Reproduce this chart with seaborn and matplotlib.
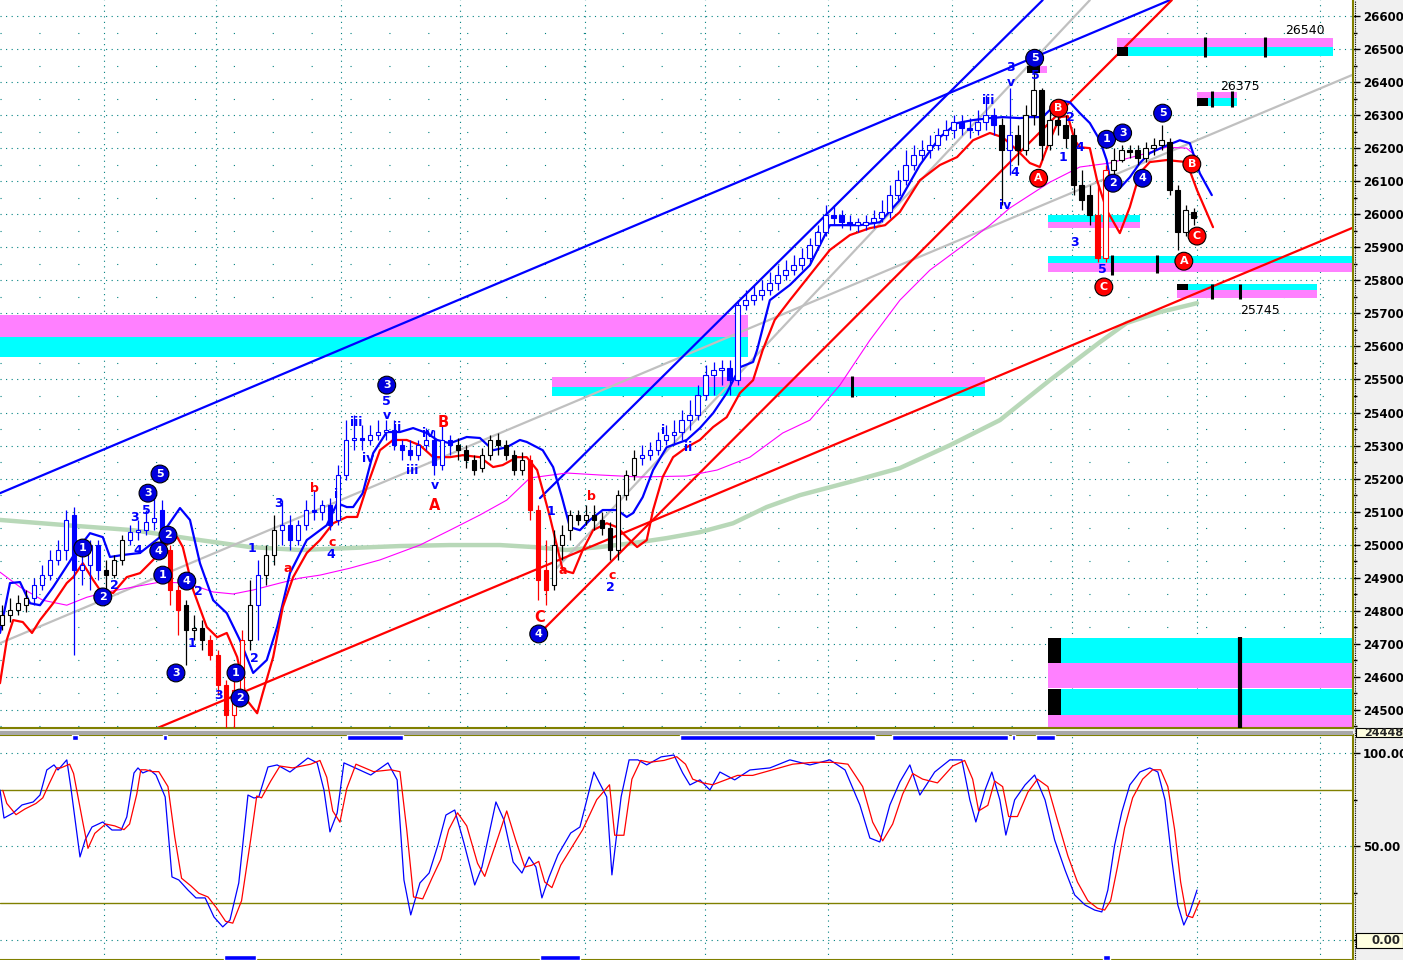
import numpy as np
import matplotlib
matplotlib.use("Agg")
import matplotlib.pyplot as plt
import seaborn as sns
from matplotlib.patches import Rectangle
from matplotlib.lines import Line2D
from matplotlib.ticker import MultipleLocator, FixedLocator

sns.set_theme(style="white")
plt.rcParams["font.family"] = ["DejaVu Sans"]

# ---------------- price bars (OHLC) ----------------
opens = [24757, 24787, 24803, 24818, 24839, 24878, 24908, 24954, 24984, 25090,
         24924, 24939, 24999, 24924, 24908, 24954, 25014, 25038, 25044, 25069,
         25105, 24984, 24863, 24818, 24742, 24748, 24712, 24666, 24576, 24485,
         24561, 24712, 24818, 24908, 24969, 25044, 25060, 25014, 25060, 25105,
         25099, 25120, 25075, 25211, 25317, 25323, 25317, 25332, 25341, 25347,
         25302, 25286, 25272, 25302, 25317, 25241, 25317, 25302, 25286, 25256,
         25232, 25272, 25317, 25302, 25272, 25226, 25256, 25105, 24924, 24878,
         24999, 25044, 25090, 25075, 25090, 25075, 25051, 24984, 25150, 25211,
         25262, 25272, 25286, 25317, 25332, 25341, 25377, 25392, 25453, 25513,
         25528, 25534, 25498, 25725, 25740, 25755, 25770, 25792, 25816, 25831,
         25846, 25867, 25907, 25946, 25997, 25997, 25976, 25967, 25967, 25976,
         25988, 26007, 26058, 26103, 26149, 26179, 26194, 26209, 26240, 26255,
         26279, 26261, 26255, 26279, 26300, 26270, 26194, 26240, 26194, 26300,
         26376, 26209, 26285, 26270, 26240, 26088, 26058, 25997, 25867, 26134,
         26164, 26194, 26194, 26170, 26200, 26209, 26218, 26073, 25946, 26007]
closes = [24787, 24803, 24824, 24839, 24878, 24908, 24954, 24984, 25075, 24924,
          24939, 24999, 24924, 24908, 24954, 25014, 25038, 25044, 25069, 25081,
          24984, 24863, 24803, 24742, 24748, 24712, 24666, 24576, 24485, 24561,
          24712, 24818, 24908, 24969, 25044, 25060, 25014, 25060, 25105, 25099,
          25120, 25060, 25211, 25317, 25323, 25317, 25332, 25341, 25347, 25302,
          25286, 25272, 25302, 25317, 25241, 25317, 25302, 25286, 25256, 25226,
          25272, 25317, 25302, 25272, 25226, 25256, 25105, 24893, 24863, 24999,
          25029, 25090, 25075, 25090, 25075, 25051, 24984, 25150, 25211, 25262,
          25272, 25286, 25317, 25332, 25341, 25377, 25392, 25453, 25513, 25528,
          25534, 25498, 25725, 25740, 25755, 25770, 25792, 25816, 25831, 25846,
          25867, 25907, 25946, 25997, 25988, 25976, 25967, 25976, 25976, 25988,
          26007, 26058, 26103, 26149, 26179, 26194, 26209, 26240, 26255, 26279,
          26261, 26255, 26279, 26300, 26270, 26194, 26240, 26194, 26300, 26376,
          26209, 26285, 26270, 26230, 26088, 26043, 25997, 25867, 26134, 26164,
          26194, 26188, 26170, 26200, 26209, 26224, 26073, 25946, 26013, 25988]
highs = [24818, 24839, 24848, 24863, 24899, 24939, 24984, 25014, 25105, 25114,
         24984, 25014, 25014, 24954, 24969, 25029, 25060, 25075, 25105, 25174,
         25135, 24999, 24878, 24833, 24787, 24772, 24727, 24682, 24591, 24621,
         24742, 24893, 24954, 24999, 25090, 25135, 25090, 25075, 25135, 25165,
         25135, 25141, 25241, 25377, 25392, 25362, 25362, 25377, 25377, 25377,
         25317, 25317, 25317, 25353, 25347, 25362, 25332, 25323, 25302, 25272,
         25292, 25332, 25338, 25317, 25286, 25280, 25272, 25120, 25014, 25044,
         25060, 25105, 25105, 25120, 25120, 25099, 25069, 25165, 25226, 25286,
         25302, 25311, 25341, 25362, 25377, 25407, 25438, 25483, 25544, 25553,
         25559, 25559, 25740, 25770, 25786, 25801, 25825, 25846, 25861, 25877,
         25898, 25928, 25967, 26028, 26028, 26013, 25997, 25988, 25997, 26013,
         26043, 26088, 26134, 26194, 26209, 26224, 26240, 26261, 26285, 26300,
         26300, 26291, 26315, 26361, 26321, 26291, 26382, 26270, 26330, 26430,
         26382, 26315, 26309, 26300, 26261, 26134, 26088, 26088, 26149, 26200,
         26209, 26209, 26209, 26218, 26230, 26270, 26230, 26088, 26028, 26019]
lows = [24742, 24766, 24787, 24797, 24818, 24863, 24893, 24939, 24954, 24666,
        24878, 24863, 24893, 24863, 24899, 24939, 24999, 25014, 25029, 25044,
        24969, 24818, 24727, 24636, 24712, 24682, 24651, 24545, 24445, 24445,
        24530, 24682, 24712, 24878, 24939, 24999, 24984, 24999, 25044, 25075,
        25075, 25044, 25060, 25196, 25286, 25286, 25302, 25317, 25317, 25286,
        25256, 25256, 25256, 25286, 25211, 25226, 25272, 25256, 25232, 25211,
        25220, 25256, 25272, 25256, 25211, 25211, 25075, 24833, 24818, 24863,
        24954, 25014, 25060, 25060, 25044, 25029, 24954, 24954, 25135, 25196,
        25241, 25256, 25272, 25302, 25302, 25317, 25347, 25377, 25438, 25453,
        25483, 25453, 25483, 25710, 25725, 25740, 25755, 25770, 25801, 25816,
        25831, 25855, 25892, 25934, 25967, 25958, 25952, 25946, 25952, 25958,
        25976, 25988, 26043, 26088, 26134, 26164, 26170, 26194, 26224, 26231,
        26240, 26231, 26240, 26255, 26240, 26028, 26119, 26149, 26179, 26270,
        26164, 26194, 26240, 26200, 26058, 26013, 25967, 25855, 25855, 26119,
        26158, 26170, 26149, 26158, 26179, 26194, 26058, 25892, 25934, 25967]
# trend colour of each bar: k = neutral, b = up-trend, r = down-trend
bar_trend = ("kkkk" + "bbbbbbbbb" + "kkk" + "bbbbb" + "rr" + "kkk" + "rrrrr" + "k" + "b" + "kk"
             + "b" * 22 + "k" * 9 + "rrr" + "k" * 11 + "b" * 45 + "k" + "b" + "k" * 10 + "rr" + "k" * 11)

# ---------------- indicator curves (bar position, price) ----------------
upper_x = [-0.25, 1.0, 2.25, 3.5, 4.75, 6.4, 9.4, 11.0, 12.6, 13.5, 15.1, 17.25, 19.75, 22.25, 23.5, 24.75,
           26.4, 28.1, 29.75, 31.4, 33.1, 34.4, 36.0, 38.1, 40.6, 41.9, 43.1, 43.9, 45.1, 46.4, 48.1, 49.75,
           51.4, 53.1, 54.4, 56.0, 58.1, 59.75, 61.4, 63.1, 64.75, 65.6, 67.6, 68.9, 70.0, 71.0, 72.25, 73.5,
           75.1, 76.9, 78.1, 78.9, 80.1, 81.4, 83.1, 85.6, 87.25, 88.9, 90.6, 92.25, 93.9, 94.4, 96.0, 98.5,
           101.0, 103.5, 105.4, 107.25, 109.75, 112.25, 114.75, 117.25, 119.4, 121.4, 123.5, 125.1, 127.25,
           128.5, 130.1, 132.25, 133.5, 134.75, 136.0, 137.25, 138.1, 138.75, 139.75, 141.0, 142.25, 143.5,
           145.1, 147.25, 148.5, 149.75, 151.25]
upper_y = [24733, 24884, 24887, 24823, 24817, 24872, 24984, 25035, 25023, 24963, 24969, 24975, 25023, 25111,
           25075, 24944, 24832, 24793, 24711, 24612, 24651, 24751, 24914, 25014, 25059, 25126, 25114, 25114,
           25156, 25277, 25341, 25341, 25353, 25338, 25317, 25307, 25326, 25323, 25286, 25295, 25317, 25311,
           25286, 25235, 25144, 25053, 25044, 25075, 25105, 25105, 25084, 25096, 25144, 25226, 25295, 25317,
           25353, 25398, 25459, 25537, 25553, 25589, 25740, 25786, 25846, 25967, 25967, 25967, 25976, 26043,
           26149, 26233, 26276, 26285, 26291, 26294, 26291, 26294, 26294, 26345, 26339, 26306, 26276, 26224,
           26164, 26079, 26079, 26112, 26155, 26185, 26203, 26224, 26215, 26124, 26058]
lower_x = [-0.25, 0.6, 1.4, 2.6, 3.75, 4.75, 6.4, 8.1, 8.9, 10.1, 11.4, 12.25, 13.9, 15.6, 17.25, 18.9, 20.1,
           21.9, 22.6, 23.9, 25.6, 26.9, 28.1, 29.4, 30.6, 31.9, 32.6, 33.9, 35.1, 36.4, 38.1, 39.75, 41.4,
           43.1, 44.4, 45.6, 47.25, 48.9, 50.6, 52.25, 53.9, 56.0, 57.6, 59.75, 61.4, 62.6, 64.4, 65.6, 66.9,
           67.6, 68.5, 69.5, 70.1, 71.4, 72.6, 73.9, 75.6, 76.9, 78.1, 79.4, 80.6, 81.4, 82.6, 83.9, 85.6,
           87.25, 88.9, 90.6, 92.25, 93.9, 95.1, 96.6, 98.5, 101.0, 103.5, 106.0, 108.5, 110.4, 112.25, 114.75,
           117.25, 119.4, 121.4, 123.5, 125.1, 126.9, 128.5, 129.75, 131.0, 132.25, 133.25, 134.1, 134.75,
           136.0, 136.9, 138.1, 139.75, 141.0, 142.25, 143.5, 145.6, 148.1, 149.4, 151.4]
lower_y = [24581, 24712, 24772, 24766, 24733, 24772, 24823, 24884, 24902, 24944, 24893, 24863, 24854, 24902,
           24914, 24954, 24993, 25023, 24993, 24863, 24751, 24720, 24733, 24660, 24530, 24490, 24551, 24660,
           24811, 24902, 24975, 25014, 25065, 25084, 25084, 25174, 25286, 25317, 25317, 25301, 25265, 25265,
           25271, 25265, 25235, 25241, 25265, 25265, 25226, 25165, 25084, 24984, 24923, 24914, 24984, 25044,
           25065, 25053, 25023, 24993, 25014, 25105, 25205, 25265, 25295, 25317, 25356, 25386, 25459, 25498,
           25589, 25680, 25740, 25816, 25892, 25937, 25958, 25967, 26007, 26103, 26149, 26173, 26224, 26246,
           26233, 26194, 26155, 26143, 26224, 26294, 26297, 26224, 26203, 26200, 26103, 26013, 25943, 26022,
           26125, 26158, 26164, 26158, 26073, 25961]
ma_mid_x = [-0.25, 2.25, 5.1, 8.1, 10.6, 13.1, 16.4, 19.75, 23.1, 26.4, 28.9, 31.4, 34.75, 37.25, 39.75, 43.5,
            47.25, 52.25, 56.0, 59.75, 63.1, 66.0, 70.6, 74.75, 79.75, 85.6, 89.4, 93.5, 97.6, 101.0, 104.75,
            108.5, 112.25, 116.0, 119.75, 123.5, 126.0, 128.5, 131.0, 134.75, 138.5, 142.25, 145.6, 148.1, 149.4]
ma_mid_y = [24917, 24872, 24832, 24817, 24841, 24857, 24872, 24887, 24884, 24857, 24851, 24863, 24884, 24899,
            24908, 24929, 24954, 24999, 25044, 25090, 25135, 25202, 25217, 25211, 25205, 25208, 25226, 25265,
            25338, 25377, 25483, 25619, 25740, 25831, 25898, 25967, 26019, 26058, 26097, 26143, 26155, 26179,
            26203, 26200, 26173]
ma_long_x = [-0.25, 8.1, 16.4, 24.75, 31.0, 37.25, 43.5, 49.75, 56.0, 62.25, 66.4, 70.6, 74.75, 78.9, 83.1,
             87.25, 91.4, 95.6, 99.75, 106.0, 112.25, 118.5, 124.75, 131.0, 137.25, 140.6, 144.75, 149.4]
ma_long_y = [25075, 25059, 25044, 25014, 24993, 24984, 24990, 24996, 24999, 24999, 24993, 24984, 24993, 25005,
             25020, 25038, 25065, 25114, 25150, 25190, 25232, 25301, 25377, 25498, 25613, 25671, 25704, 25731]

# ---------------- trend lines (start bar, start price, end bar, end price) ----------------
trend_names = ["gray_slow", "gray_fast", "blue_channel", "blue_steep", "red_support", "red_steep"]
trend_x0 = [-0.25, 69.1, -0.25, 67.25, 19.4, 67.25]
trend_y0 = [24702, 24923, 25156, 25141, 24445, 24733]
trend_x1 = [168.75, 136.0, 146.0, 130.1, 168.75, 146.25]
trend_y1 = [26421, 26648, 26648, 26648, 25958, 26648]
trend_colors = ["#c0c0c0", "#c0c0c0", "#0000ff", "#0000ff", "#ff0000", "#ff0000"]

# ---------------- target zones (x0, x1, top, mid, bottom, upper colour) ----------------
zone_x0 = [-0.25, 68.75, 139.4, 149.4, 130.75, 130.75, 146.9, 130.75, 130.75]
zone_x1 = [93.25, 122.9, 166.4, 154.4, 142.25, 169.0, 164.4, 169.0, 169.0]
zone_top = [25695, 25507, 26533, 26370, 25998, 25873, 25789, 24718, 24563]
zone_mid = [25628, 25477, 26506, 26351, 25976, 25852, 25771, 24642, 24485]
zone_bot = [25568, 25450, 26479, 26327, 25958, 25825, 25746, 24566, 24445]
zone_upper = ["m", "m", "m", "m", "c", "c", "c", "c", "c"]
block_x0 = [139.4, 149.4, 146.9, 130.75, 130.75, 128.1]
block_x1 = [140.75, 150.75, 148.25, 132.4, 132.4, 129.75]
block_y0 = [26479, 26327, 25771, 24642, 24485, 26427]
block_y1 = [26506, 26351, 25789, 24718, 24563, 26448]
zone_tick_x = [106.25, 150.4, 157.9, 151.25, 153.75, 138.75, 144.4, 151.25, 154.75, 154.75]
zone_tick_y0 = [25447, 26476, 26476, 26324, 26324, 25816, 25822, 25743, 25743, 24445]
zone_tick_y1 = [25510, 26536, 26536, 26373, 26373, 25877, 25877, 25789, 25789, 24722]
zone_label_text = ["26540", "26375", "25745"]
zone_label_x = [162.9, 154.75, 157.25]
zone_label_y = [26557, 26388, 25710]

# ---------------- wave counts ----------------
circle_text = ["1", "2", "3", "5", "2", "4", "1", "4", "3", "1", "2", "3", "4", "5", "1", "3", "2", "4", "5",
               "B", "A", "C", "B", "C", "A"]
circle_x = [10.1, 12.6, 18.25, 19.75, 20.75, 19.6, 20.1, 23.1, 21.75, 29.25, 29.75, 48.1, 67.1, 129.1, 138.1,
            140.1, 138.9, 142.6, 145.1, 132.1, 129.6, 137.75, 148.75, 149.4, 147.75]
circle_y = [24990, 24842, 25156, 25214, 25029, 24981, 24908, 24890, 24612, 24612, 24536, 25483, 24730, 26472,
            26227, 26246, 26094, 26109, 26306, 26321, 26109, 25780, 26152, 25934, 25858]
label_text = ["1", "2", "3", "4", "i", "c", "b", "a", "5", "3", "4", "2", "2", "1", "3",
              "iii", "5", "v", "ii", "iv", "iv", "iii", "v", "B", "A",
              "1", "b", "a", "c", "2", "C", "i", "ii",
              "iii", "3", "v", "5", "4", "iv", "2", "1", "4", "3", "5"]
label_x = [31.25, 31.6, 34.6, 41.1, 41.75, 41.25, 39.1, 35.75, 18.1, 16.6, 17.0, 14.1, 24.6, 23.75, 27.1,
           44.25, 48.1, 48.1, 49.4, 45.75, 53.25, 51.25, 54.1, 55.1, 54.1,
           68.6, 73.75, 70.1, 76.25, 76.1, 67.25, 82.6, 85.75,
           123.25, 126.1, 126.1, 129.25, 126.6, 125.4, 133.6, 132.6, 134.75, 134.1, 137.6]
label_y = [24990, 24657, 25126, 24969, 25153, 25008, 25171, 24929, 25105, 25081, 24984, 24878, 24857, 24702, 24545,
           25371, 25432, 25392, 25356, 25262, 25338, 25226, 25180, 25371, 25120,
           25102, 25147, 24923, 24908, 24872, 24781, 25347, 25295,
           26345, 26445, 26400, 26421, 26125, 26028, 26294, 26173, 26203, 25916, 25834]
label_color = ["b", "b", "b", "b", "b", "r", "r", "r", "b", "b", "b", "b", "b", "b", "b",
               "b", "b", "b", "b", "b", "b", "b", "b", "r", "r",
               "b", "r", "r", "r", "b", "r", "b", "b",
               "b", "b", "b", "b", "b", "b", "b", "b", "b", "b", "b"]

# ---------------- stochastic oscillator ----------------
stoch_x = [-0.25, 0.25, 1.4, 2.5, 3.9, 4.75, 5.6, 6.5, 7.0, 8.1,
           8.6, 9.75, 10.4, 11.25, 12.6, 13.75, 14.9, 15.6, 16.5, 17.0,
           17.6, 18.5, 19.25, 20.4, 21.25, 22.1, 23.25, 24.25, 25.4, 26.5,
           27.6, 28.5, 29.6, 30.75, 31.5, 32.1, 33.25, 34.4, 36.0, 38.25,
           39.4, 40.25, 41.0, 41.9, 42.75, 43.9, 46.1, 48.25, 49.4, 50.25,
           51.1, 52.25, 53.4, 54.5, 55.5, 56.6, 57.75, 59.1, 60.0, 61.75,
           62.75, 63.9, 65.0, 65.9, 66.75, 67.5, 68.4, 69.5, 71.1, 72.25,
           74.0, 75.6, 76.25, 77.4, 78.4, 79.5, 80.6, 82.4, 84.0, 85.1,
           86.0, 87.25, 88.5, 89.75, 91.6, 93.5, 96.0, 98.5, 101.0, 103.5,
           105.4, 107.25, 108.5, 109.75, 111.0, 112.25, 113.5, 114.75, 116.6, 118.5,
           120.0, 121.0, 121.75, 122.9, 123.75, 124.75, 125.5, 126.6, 127.9, 129.1,
           130.4, 131.6, 132.9, 134.1, 135.4, 136.6, 137.5, 138.25, 139.1, 140.0,
           141.0, 142.25, 143.5, 144.5, 145.4, 146.25, 147.0, 147.75, 148.5, 149.4]
stoch_k = [80.2, 65.2, 67.9, 72.2, 73.8, 77.5, 90.9, 93.6, 90.9, 96.3,
           81.8, 44.4, 53.5, 60.4, 63.1, 58.8, 58.8, 65.8, 89.3, 92.0,
           89.3, 90.9, 88.2, 76.5, 33.7, 32.1, 26.7, 22.5, 22.5, 12.3,
           7.0, 10.7, 30.5, 77.5, 75.9, 76.5, 92.5, 93.6, 89.8, 97.3,
           94.7, 80.2, 57.8, 67.9, 94.7, 92.5, 88.2, 94.7, 85.6, 32.1,
           13.4, 30.5, 35.8, 50.8, 66.8, 69.5, 51.9, 29.4, 39.0, 73.8,
           64.2, 41.7, 35.8, 44.4, 39.0, 22.5, 33.7, 45.5, 57.2, 60.4,
           89.8, 76.5, 34.8, 76.5, 96.3, 96.3, 93.6, 97.9, 98.9, 89.3,
           82.9, 85.6, 80.2, 89.8, 85.6, 90.9, 92.0, 96.3, 93.6, 96.3,
           90.9, 72.2, 54.5, 52.4, 72.2, 84.5, 93.6, 77.5, 89.8, 96.3,
           96.3, 74.9, 63.1, 80.2, 89.8, 74.9, 56.1, 74.9, 82.9, 88.2,
           74.9, 53.5, 37.4, 24.1, 18.7, 16.0, 15.0, 26.7, 50.8, 68.4,
           82.9, 89.8, 92.0, 89.8, 74.9, 42.8, 18.7, 8.0, 15.0, 26.7]
stoch_d = [80, 73, 67, 70, 73, 76, 84, 92, 92, 94,
           89, 63, 49, 57, 62, 61, 59, 62, 78, 91,
           91, 90, 90, 82, 55, 33, 29, 25, 23, 17,
           10, 9, 21, 54, 77, 76, 85, 93, 92, 94,
           96, 87, 69, 63, 81, 94, 90, 91, 90, 59,
           23, 22, 33, 43, 59, 68, 61, 41, 34, 56,
           69, 53, 39, 40, 42, 31, 28, 40, 51, 59,
           75, 83, 56, 56, 86, 96, 95, 96, 98, 94,
           86, 84, 83, 85, 88, 88, 91, 94, 95, 95,
           94, 82, 63, 53, 62, 78, 89, 86, 84, 93,
           96, 86, 69, 72, 85, 82, 66, 66, 79, 86,
           82, 64, 45, 31, 21, 17, 16, 21, 39, 60,
           76, 86, 91, 91, 82, 59, 31, 13, 12, 21]
signal_top_start = [8.75, 20.1, 43.1, 84.75, 111.25, 126.25, 129.25]
signal_top_end = [9.5, 20.6, 50.1, 109.1, 125.75, 126.6, 131.6]
signal_bot_start = [27.75, 67.25, 137.6]
signal_bot_end = [31.75, 72.25, 138.5]

price_ticks = list(range(24500, 26601, 100))
grid_bars = [12.75, 26.75, 42.4, 57.25, 72.9, 87.9, 103.25, 118.75, 133.75, 149.4, 164.75]

# ====================================================================
W, H = 1403, 960
fig = plt.figure(figsize=(W / 100, H / 100), dpi=100, facecolor="#f0f0f0")
AXR = 1353 / W
ax = fig.add_axes([0, 1 - 728 / H, AXR, 728 / H], facecolor="white")
ax2 = fig.add_axes([0, 0, AXR, 225 / H], facecolor="white")

XLIM = (-0.25, 168.9)
DOT = (0, (1, 4))
TEAL = "#008080"
OLIVE = "#808000"
col = {"k": "#000000", "b": "#0000ff", "r": "#ff0000", "m": "#ff80ff", "c": "#00ffff"}

for a in (ax, ax2):
    a.set_xlim(*XLIM)
    a.xaxis.set_major_locator(FixedLocator(grid_bars))
    a.tick_params(axis="x", which="both", length=0, labelbottom=False)
    a.grid(True, axis="x", color=TEAL, linestyle=DOT, linewidth=0.8)
    a.grid(True, axis="y", which="major", color=TEAL, linestyle=DOT, linewidth=0.8)
    for s in ("left", "top"):
        a.spines[s].set_visible(False)
    a.spines["right"].set_color(OLIVE)
    a.spines["right"].set_linewidth(1.5)
    a.spines["bottom"].set_color(OLIVE)
    a.spines["bottom"].set_linewidth(1.5)
    a.yaxis.tick_right()
    a.tick_params(axis="y", which="major", length=5, width=1, color="black", pad=2,
                  labelsize=8.5, labelcolor="black", right=True, left=False)
    a.tick_params(axis="y", which="minor", length=3, width=1, color="black", right=True, left=False)
    a.set_axisbelow(True)
ax2.spines["top"].set_visible(True)
ax2.spines["top"].set_color(OLIVE)
ax2.spines["top"].set_linewidth(1.5)

# ---- main panel ----
ax.set_ylim(24445.4, 26648.4)
ax.set_yticks(price_ticks)
ax.set_yticklabels([f"{v:.2f}" for v in price_ticks])
ax.yaxis.set_minor_locator(MultipleLocator(50))
ax.grid(True, axis="y", which="minor", color=TEAL, linestyle=(0, (1, 34)), linewidth=0.8)
for t in ax.get_yticklabels():
    t.set_fontweight("bold")

# zones
for x0, x1, t, m, b, up in zip(zone_x0, zone_x1, zone_top, zone_mid, zone_bot, zone_upper):
    lo = "c" if up == "m" else "m"
    ax.add_patch(Rectangle((x0, m), x1 - x0, t - m, facecolor=col[up], edgecolor="none", zorder=1))
    ax.add_patch(Rectangle((x0, b), x1 - x0, m - b, facecolor=col[lo], edgecolor="none", zorder=1))
ax.add_patch(Rectangle((129.75, 26427), 0.85, 21, facecolor=col["m"], edgecolor="none", zorder=1))
for x0, x1, y0, y1 in zip(block_x0, block_x1, block_y0, block_y1):
    ax.add_patch(Rectangle((x0, y0), x1 - x0, y1 - y0, facecolor="black", edgecolor="none", zorder=4))
ax.vlines(zone_tick_x[:-1], zone_tick_y0[:-1], zone_tick_y1[:-1], colors="black", linewidth=2.2, zorder=4)
ax.vlines(zone_tick_x[-1:], zone_tick_y0[-1:], zone_tick_y1[-1:], colors="black", linewidth=3, zorder=4)
for s, x, y in zip(zone_label_text, zone_label_x, zone_label_y):
    ax.text(x, y, s, ha="center", va="center", fontsize=9, color="black", zorder=6)

# moving averages and trend lines
sns.lineplot(x=ma_long_x, y=ma_long_y, ax=ax, color="#b8d8b8", linewidth=3.2, legend=False, zorder=2)
for x0, y0, x1, y1, c in zip(trend_x0, trend_y0, trend_x1, trend_y1, trend_colors):
    sns.lineplot(x=[x0, x1], y=[y0, y1], ax=ax, color=c, linewidth=1.6, legend=False, zorder=2)
sns.lineplot(x=ma_mid_x, y=ma_mid_y, ax=ax, color="#ff00ff", linewidth=0.8, legend=False, zorder=2)
sns.lineplot(x=upper_x, y=upper_y, ax=ax, color="#0000ff", linewidth=1.6, legend=False, zorder=2.5)
sns.lineplot(x=lower_x, y=lower_y, ax=ax, color="#ff0000", linewidth=1.6, legend=False, zorder=2.5)

# candles
bx = np.arange(len(closes))
o = np.array(opens, float); c = np.array(closes, float)
edge = [col[t] for t in bar_trend]
face = ["white" if cc > oo else col[t] for oo, cc, t in zip(o, c, bar_trend)]
ax.vlines(bx, lows, highs, colors=edge, linewidth=0.9, zorder=3)
body_lo = np.minimum(o, c)
body_h = np.maximum(np.abs(c - o), 4)
ax.bar(bx, body_h, bottom=body_lo, width=0.6, color=face, edgecolor=edge, linewidth=0.8, zorder=3.2)

# wave counts
ax.scatter(circle_x, circle_y, s=165,
           c=["#ff0000" if t in "ABC" else "#0000dd" for t in circle_text],
           edgecolors="black", linewidths=0.8, zorder=6)
for t, x, y in zip(circle_text, circle_x, circle_y):
    ax.text(x, y, t, ha="center", va="center", color="white", fontsize=8, fontweight="bold", zorder=7)
for t, x, y, cl in zip(label_text, label_x, label_y, label_color):
    fs = 10.5 if t in ("A", "B", "C") else 9
    ax.text(x, y, t, ha="center", va="center", color=col[cl], fontsize=fs, fontweight="bold", zorder=6)

# ---- oscillator panel ----
ax2.set_ylim(-10.7, 109.6)
ax2.set_yticks([0, 50, 100])
ax2.set_yticklabels(["", "50.00", "100.00"])
ax2.yaxis.set_minor_locator(FixedLocator([25, 75]))
for t in ax2.get_yticklabels():
    t.set_fontweight("bold")
ax2.axhline(80, color=OLIVE, linewidth=1, zorder=1)
ax2.axhline(20, color=OLIVE, linewidth=1, zorder=1)
sns.lineplot(x=stoch_x, y=stoch_k, ax=ax2, color="#0000ff", linewidth=0.9, legend=False, zorder=3)
sns.lineplot(x=[v + 0.35 for v in stoch_x], y=stoch_d, ax=ax2, color="#ff0000", linewidth=0.9,
             legend=False, zorder=3)
ax2.broken_barh([(s, e - s) for s, e in zip(signal_top_start, signal_top_end)], (106.8, 2.8),
                facecolors="#0000ff", zorder=4)
ax2.broken_barh([(s, e - s) for s, e in zip(signal_bot_start, signal_bot_end)], (-10.7, 2.8),
                facecolors="#0000ff", zorder=4)
ax.set_xlabel(""); ax.set_ylabel(""); ax2.set_xlabel(""); ax2.set_ylabel("")

# ---- frame decorations ----
fig.patches.append(Rectangle((0, 1 - 735 / H), AXR, 4 / H, transform=fig.transFigure,
                             facecolor="#a8a8a8", edgecolor="none", zorder=0))
fig.lines.append(Line2D([1355 / W, 1355 / W], [0, 1], transform=fig.transFigure,
                        color="black", linestyle=(0, (1, 1)), linewidth=0.8))
fig.patches.append(Rectangle((1356 / W, 1 - 737 / H), 47 / W, 9 / H, transform=fig.transFigure,
                             facecolor="#ffffe0", edgecolor="black", linewidth=0.8, zorder=5))
fig.text(1364 / W, 1 - 733 / H, "24448.00", fontsize=8, fontweight="bold", va="center", zorder=6)
fig.patches.append(Rectangle((1356 / W, 1 - 948 / H), 47 / W, 15 / H, transform=fig.transFigure,
                             facecolor="#ffffe0", edgecolor="black", linewidth=0.8, zorder=5))
fig.text(1401 / W, 1 - 940 / H, "0.00", fontsize=8.5, fontweight="bold", va="center", ha="right", zorder=6)

fig.savefig("out.png", dpi=100, facecolor=fig.get_facecolor())
